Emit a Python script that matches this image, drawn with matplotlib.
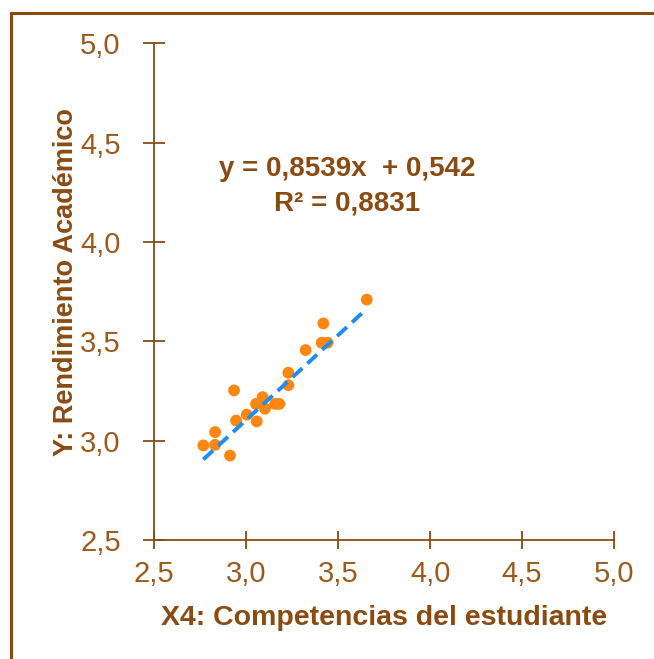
import numpy as np
import matplotlib
matplotlib.use("Agg")
import matplotlib.pyplot as plt
from matplotlib.patches import Rectangle

# values
x4 = [3.656, 3.42, 3.411, 3.443, 3.324, 3.23, 3.23, 2.935, 3.09, 3.054,
      3.103, 3.158, 3.181, 3.004, 2.946, 3.058, 2.832, 2.768, 2.832, 2.913]
y_rend = [3.71, 3.59, 3.493, 3.493, 3.456, 3.342, 3.279, 3.253, 3.219, 3.185,
          3.161, 3.185, 3.185, 3.131, 3.101, 3.097, 3.043, 2.976, 2.979, 2.925]
slope = 0.8539
intercept = 0.542
r2_label = "0,8831"
ticks = [2.5, 3.0, 3.5, 4.0, 4.5, 5.0]
tick_labels = ["2,5", "3,0", "3,5", "4,0", "4,5", "5,0"]

brown = "#8A4B12"
tick_brown = "#9A5A1E"
plt.rcParams["font.family"] = ["Liberation Sans", "DejaVu Sans"]

fig = plt.figure(figsize=(6.54, 6.59), dpi=100)
ax = fig.add_axes([0.2355, 0.1806, 0.7035, 0.7536])

ax.scatter(x4, y_rend, s=72, color="#FF8710", edgecolors="none", zorder=3)
xs = np.array([min(x4), max(x4)])
ax.plot(xs, slope * xs + intercept, color="#1E8CF0", lw=2.8,
        ls=(0, (3.4, 1.8)), zorder=4)

ax.text(3.55, 4.37, "y = 0,8539x  + 0,542", ha="center", va="center",
        fontsize=20, fontweight="bold", color=brown)
ax.text(3.55, 4.195, "R² = " + r2_label, ha="center", va="center",
        fontsize=20, fontweight="bold", color=brown)

ax.set_xlim(2.5, 5.0)
ax.set_ylim(2.5, 5.0)
ax.set_xticks(ticks)
ax.set_xticklabels(tick_labels)
ax.set_yticks(ticks)
ax.set_yticklabels(tick_labels)
ax.tick_params(axis="both", colors=brown, labelcolor=tick_brown,
               labelsize=21, direction="inout", width=1.3)
ax.tick_params(axis="x", length=13, pad=8)
ax.tick_params(axis="y", length=16, pad=16)
for side in ["top", "right"]:
    ax.spines[side].set_visible(False)
for side in ["left", "bottom"]:
    ax.spines[side].set_color(brown)
    ax.spines[side].set_linewidth(1.3)

ax.set_xlabel("X4: Competencias del estudiante", fontsize=20.5,
              fontweight="bold", color=brown, labelpad=12)
ax.set_ylabel("Y: Rendimiento Académico", fontsize=19.5,
              fontweight="bold", color=brown)
ax.yaxis.set_label_coords(-0.163, 0.52)

# outer frame of the original chart area
fig.patches.append(Rectangle((11 / 654, -0.1), 1.2, 1 - 13 / 659 + 0.1,
                             transform=fig.transFigure, fill=False,
                             edgecolor="#8B4A10", lw=2.2))

fig.savefig("out.png", dpi=100)
